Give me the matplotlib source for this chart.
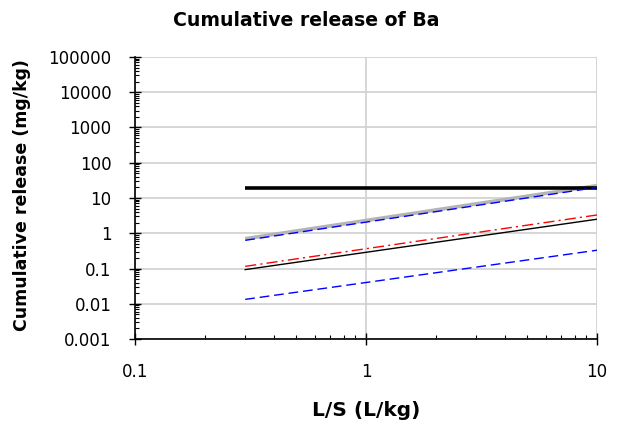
import matplotlib
matplotlib.use("Agg")
import matplotlib.pyplot as plt
from matplotlib.ticker import LogLocator, FixedLocator, NullFormatter

# Data
ls = [0.3, 10]
limit = [19, 19]
gray_line = [0.70, 22.4]
blue_upper = [0.63, 20.0]
red_dashdot = [0.115, 3.3]
black_thin = [0.093, 2.5]
blue_lower = [0.0133, 0.33]

x_ticks = [0.1, 1, 10]
y_ticks = [0.001, 0.01, 0.1, 1, 10, 100, 1000, 10000, 100000]
y_tick_labels = ["0.001", "0.01", "0.1", "1", "10", "100", "1000", "10000", "100000"]
x_tick_labels = ["0.1", "1", "10"]

fig = plt.figure(figsize=(6.2, 4.28), dpi=100)
ax = fig.add_axes([135/620, 1-339/428, (597-135)/620, (339-57)/428])

ax.plot(ls, gray_line, color="#b4b4b4", lw=2.6, solid_capstyle="butt", zorder=3)
ax.plot(ls, blue_upper, color="#0000ff", lw=1.0, dashes=(7, 3.5), zorder=4)
ax.plot(ls, limit, color="black", lw=2.6, solid_capstyle="butt", zorder=3)
ax.plot(ls, red_dashdot, color="#ff0000", lw=1.0, dashes=(8, 3, 1.5, 3), zorder=4)
ax.plot(ls, black_thin, color="black", lw=1.0, zorder=4)
ax.plot(ls, blue_lower, color="#0000ff", lw=1.0, dashes=(7, 3.5), zorder=4)

ax.set_xscale("log")
ax.set_yscale("log")
ax.set_xlim(0.1, 10)
ax.set_ylim(0.001, 100000)

ax.xaxis.set_major_locator(FixedLocator(x_ticks))
ax.yaxis.set_major_locator(FixedLocator(y_ticks))
ax.set_xticklabels(x_tick_labels)
ax.set_yticklabels(y_tick_labels)
ax.xaxis.set_minor_locator(LogLocator(base=10, subs=range(2, 10)))
ax.yaxis.set_minor_locator(LogLocator(base=10, subs=range(2, 10), numticks=20))
ax.xaxis.set_minor_formatter(NullFormatter())
ax.yaxis.set_minor_formatter(NullFormatter())

ax.tick_params(which="major", direction="inout", length=8, width=1, labelsize=12, color="black")
ax.tick_params(axis="y", which="major", pad=13)
ax.tick_params(axis="x", which="major", pad=13)
ax.tick_params(which="minor", direction="in", length=3, width=0.8, color="black")

ax.grid(True, which="major", color="#d0d0d0", lw=1.2, zorder=0)
ax.set_axisbelow(True)
for s in ["top", "right"]:
    ax.spines[s].set_visible(False)
for s in ["left", "bottom"]:
    ax.spines[s].set_color("black")
    ax.spines[s].set_linewidth(1.2)

fig.text(306/620, 1-20/428, "Cumulative release of Ba", fontsize=13.6, fontweight="bold",
         ha="center", va="center")
fig.text(366/620, 1-410/428, "L/S (L/kg)", fontsize=14.5, fontweight="bold",
         ha="center", va="center")
fig.text(22/620, 1-195/428, "Cumulative release (mg/kg)", fontsize=12.5, fontweight="bold",
         ha="center", va="center", rotation=90)

fig.savefig("out.png", dpi=100)
